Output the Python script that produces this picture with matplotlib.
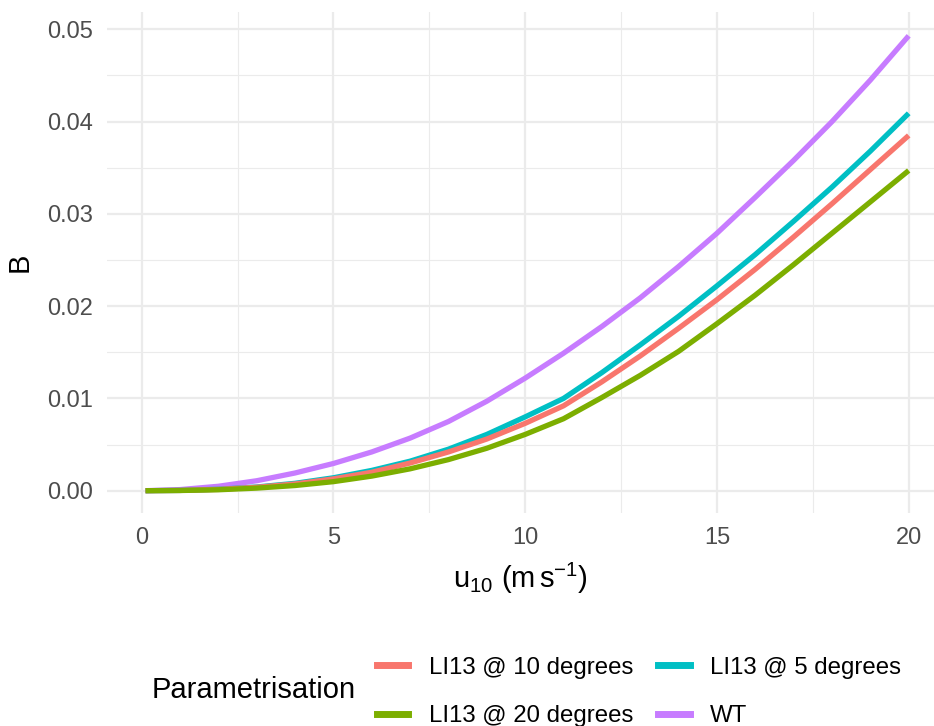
import matplotlib
matplotlib.use("Agg")
import matplotlib.pyplot as plt
from matplotlib.lines import Line2D

plt.rcParams["font.family"] = ["Liberation Sans", "DejaVu Sans"]
plt.rcParams["mathtext.fontset"] = "custom"
plt.rcParams["mathtext.rm"] = "Liberation Sans"
plt.rcParams["mathtext.it"] = "Liberation Sans:italic"

# wind speed u10 (m/s) and whitecap-ish fraction B
u10 = [0.1, 1, 2, 3, 4, 5, 6, 7, 8, 9, 10, 11, 12, 13, 14, 15, 16, 17, 18, 19, 20]
b_wt = [0.0, 0.00012, 0.00048, 0.00108, 0.00192, 0.00295, 0.0042, 0.0057, 0.0075,
        0.0097, 0.0122, 0.0149, 0.0178, 0.0209, 0.0243, 0.0279, 0.0318, 0.0358,
        0.0400, 0.0445, 0.0493]
b_li13_5 = [0.0, 0.00003, 0.00016, 0.0004, 0.0008, 0.0014, 0.0022, 0.0032, 0.0045,
            0.0061, 0.0080, 0.0100, 0.0128, 0.0158, 0.0189, 0.0222, 0.0256, 0.0292,
            0.0329, 0.0368, 0.0409]
b_li13_10 = [0.0, 0.00003, 0.00014, 0.00037, 0.00073, 0.00128, 0.0020, 0.0030, 0.0042,
             0.0056, 0.0073, 0.0092, 0.0118, 0.0146, 0.0176, 0.0207, 0.0240, 0.0275,
             0.0311, 0.0348, 0.0385]
b_li13_20 = [0.0, 0.00002, 0.0001, 0.00028, 0.00056, 0.00098, 0.00158, 0.00237, 0.00337,
             0.0046, 0.0061, 0.0078, 0.0101, 0.0125, 0.0151, 0.0181, 0.0212, 0.0245,
             0.0279, 0.0313, 0.0347]

labels = ["LI13 @ 10 degrees", "LI13 @ 20 degrees", "LI13 @ 5 degrees", "WT"]
colors = {"LI13 @ 10 degrees": "#F8766D", "LI13 @ 20 degrees": "#7CAE00",
          "LI13 @ 5 degrees": "#00BFC4", "WT": "#C77CFF"}
series = {"LI13 @ 10 degrees": b_li13_10, "LI13 @ 20 degrees": b_li13_20,
          "LI13 @ 5 degrees": b_li13_5, "WT": b_wt}

W, H = 934, 726
fig = plt.figure(figsize=(W / 100, H / 100), dpi=100)
ax = fig.add_axes([107.3 / W, 1 - 513.3 / H, (W - 107.3) / W, (513.3 - 12) / H])

LW = 3.8
for name in ["WT", "LI13 @ 5 degrees", "LI13 @ 10 degrees", "LI13 @ 20 degrees"]:
    ax.plot(u10, series[name], color=colors[name], lw=LW, solid_capstyle="butt",
            solid_joinstyle="round", zorder=3)

ax.set_xlim(-0.897, 20.66)
ax.set_ylim(-0.00245, 0.05188)
ax.set_xticks([0, 5, 10, 15, 20])
ax.set_xticklabels(["0", "5", "10", "15", "20"])
ax.set_xticks([2.5, 7.5, 12.5, 17.5], minor=True)
ax.set_yticks([0, 0.01, 0.02, 0.03, 0.04, 0.05])
ax.set_yticklabels(["0.00", "0.01", "0.02", "0.03", "0.04", "0.05"])
ax.set_yticks([0.005, 0.015, 0.025, 0.035, 0.045], minor=True)

ax.grid(True, which="major", color="#EBEBEB", lw=1.6, zorder=0)
ax.grid(True, which="minor", color="#EBEBEB", lw=0.8, zorder=0)
ax.set_axisbelow(True)
for s in ax.spines.values():
    s.set_visible(False)
ax.tick_params(which="both", length=0, labelsize=17, labelcolor="#4D4D4D")
ax.tick_params(axis="x", pad=10)
ax.tick_params(axis="y", pad=10)

ax.set_ylabel("B", fontsize=21, labelpad=10)
ax.set_xlabel(r"$\mathrm{u_{10}\ (m\,s^{-1})}$", fontsize=21, labelpad=8)

handles = [Line2D([], [], color=colors[n], lw=5) for n in labels]
fig.legend(handles, labels, loc="center left", bbox_to_anchor=(377 / W, 1 - 692 / H),
           ncol=2, frameon=False, fontsize=17.3, handlelength=1.3, handletextpad=0.85,
           columnspacing=1.05, labelspacing=1.1, borderpad=0, borderaxespad=0)
fig.text(152 / W, 1 - 690 / H, "Parametrisation", fontsize=21, ha="left", va="center")

fig.savefig("out.png", dpi=100)
